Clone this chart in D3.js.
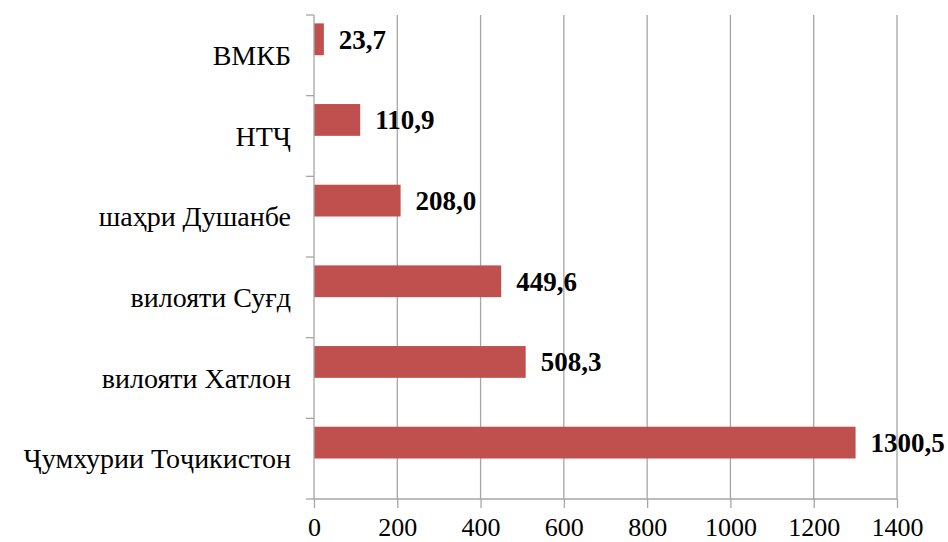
<!DOCTYPE html>
<html><head><meta charset="utf-8">
<script src="https://cdn.jsdelivr.net/npm/d3@7"></script>
<style>body{margin:0;background:#fff}svg{display:block}</style>
</head><body><svg id="c" width="948" height="542"></svg>
<script>
const categories = ["ВМКБ","НТҶ","шаҳри Душанбе","вилояти Суғд","вилояти Хатлон","Ҷумхурии Тоҷикистон"];
const values = [23.7,110.9,208.0,449.6,508.3,1300.5];
const valueLabels = ["23,7","110,9","208,0","449,6","508,3","1300,5"];
const xTicks = [0,200,400,600,800,1000,1200,1400];

const svg = d3.select("#c");
const x = d3.scaleLinear().domain([0,1400]).range([314,897]);
const y = d3.scaleBand().domain(categories).range([15,499]).paddingInner(0).paddingOuter(0);
const bw = y.bandwidth();
const gridC = "#a6a6a6";
const font = "'Liberation Serif', 'Times New Roman', serif";

svg.append("g").selectAll("line").data(xTicks.slice(1)).join("line")
  .attr("x1",d=>x(d)).attr("x2",d=>x(d)).attr("y1",15).attr("y2",499)
  .attr("stroke",gridC).attr("stroke-width",1.3);

svg.append("g").selectAll("rect").data(values).join("rect")
  .attr("x",x(0)).attr("y",(d,i)=>y(categories[i])+bw*0.104)
  .attr("width",d=>x(d)-x(0)).attr("height",bw*0.394)
  .attr("fill","#c0504d");

const gy = svg.append("g").attr("transform","translate(314,0)");
gy.append("line").attr("x1",0).attr("x2",0).attr("y1",15).attr("y2",499).attr("stroke",gridC).attr("stroke-width",1.3);
const bounds = categories.map(c=>y(c)).concat([499]);
gy.selectAll(".bt").data(bounds).join("line").attr("class","bt")
  .attr("x1",-8).attr("x2",0).attr("y1",d=>d).attr("y2",d=>d).attr("stroke",gridC).attr("stroke-width",1.3);
svg.append("g").selectAll("text").data(categories).join("text")
  .attr("x",291).attr("y",d=>y(d)+bw/2).attr("dy","0.35em")
  .attr("text-anchor","end").style("font-family",font).attr("font-size",28).attr("fill","#000")
  .text(d=>d)
  .each(function(){ const w=this.getComputedTextLength(); if(w>279){ d3.select(this).attr("textLength",279).attr("lengthAdjust","spacingAndGlyphs"); } });

const xAxis = d3.axisBottom(x).tickValues(xTicks).tickSize(9).tickPadding(10).tickFormat(d3.format("d"));
const gx = svg.append("g").attr("transform","translate(0,499)").call(xAxis);
gx.attr("font-family",null).attr("font-size",null);
gx.select(".domain").attr("stroke",gridC).attr("stroke-width",1.3).attr("d","M314,0H897");
gx.selectAll(".tick line").attr("stroke",gridC).attr("stroke-width",1.3);
gx.selectAll(".tick text").style("font-family",font).attr("font-size",26).attr("fill","#000");

svg.append("g").selectAll("text").data(values).join("text")
  .attr("x",d=>x(d)+15).attr("y",(d,i)=>y(categories[i])+bw*0.104+bw*0.197).attr("dy","0.35em")
  .style("font-family",font).attr("font-size",27).attr("font-weight","bold").attr("fill","#000")
  .text((d,i)=>valueLabels[i]);
</script></body></html>
